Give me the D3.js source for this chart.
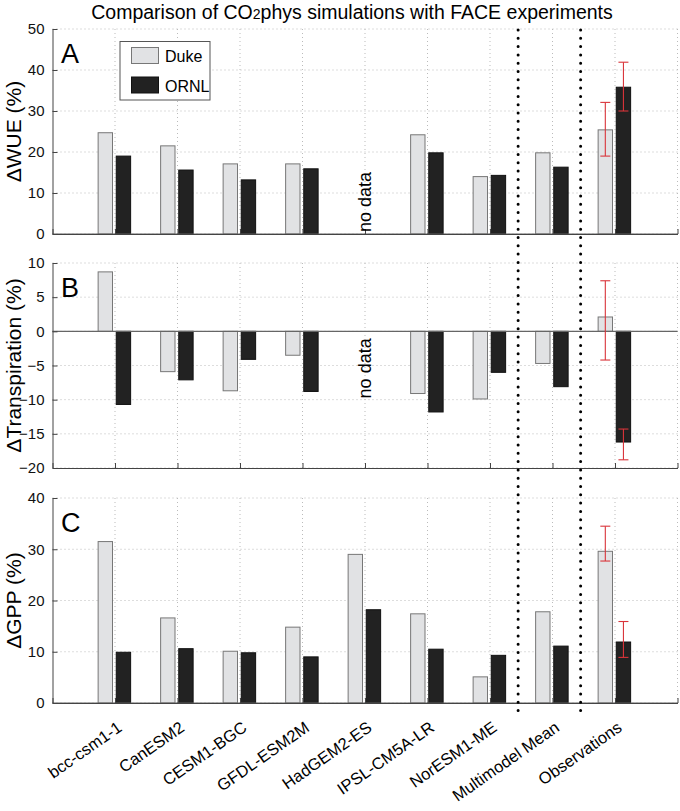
<!DOCTYPE html>
<html>
<head>
<meta charset="utf-8">
<script src="https://cdn.jsdelivr.net/npm/d3@7/dist/d3.min.js"></script>
<style>
  body { margin: 0; background: #fff; }
  svg text { font-family: "Liberation Sans", Arial, Helvetica, sans-serif; }
</style>
</head>
<body>
<div id="chart"></div>
<script>
var models = ['bcc-csm1-1','CanESM2','CESM1-BGC','GFDL-ESM2M','HadGEM2-ES','IPSL-CM5A-LR','NorESM1-ME','Multimodel Mean','Observations'];
var series = ['Duke','ORNL'];

// null = no data
var wueDuke = [24.7, 21.5, 17.1, 17.1, null, 24.2, 14.0, 19.8, 25.4];
var wueOrnl = [19.0, 15.6, 13.2, 15.9, null, 19.8, 14.3, 16.3, 35.8];
var trDuke  = [8.7, -5.9, -8.7, -3.5, null, -9.1, -9.9, -4.7, 2.1];
var trOrnl  = [-10.7, -7.1, -4.1, -8.8, null, -11.8, -6.0, -8.1, -16.2];
var gppDuke = [31.5, 16.6, 10.1, 14.8, 29.0, 17.4, 5.1, 17.8, 29.6];
var gppOrnl = [9.9, 10.6, 9.8, 9.0, 18.2, 10.5, 9.3, 11.1, 11.9];

// observation ranges [low, high] for Duke and ORNL
var wueErr = [[19.0, 32.1], [30.0, 41.9]];
var trErr  = [[-4.2, 7.4], [-18.8, -14.3]];
var gppErr = [[27.7, 34.5], [8.9, 15.9]];

var wueTicks = [0, 10, 20, 30, 40, 50];
var trTicks  = [-20, -15, -10, -5, 0, 5, 10];
var gppTicks = [0, 10, 20, 30, 40];

var separators = [7.45, 8.45];

var W = 680, H = 811;
var left = 52.5, right = 677.5;
var panelH = 205;

var svg = d3.select('#chart').append('svg')
  .attr('width', W)
  .attr('height', H);

var x = d3.scaleLinear().domain([0, 10]).range([left, right]);
var xTicks = d3.range(0, 11);
var barW = 0.23;
var offsets = [-0.155, 0.135];
var colors = ['#e1e2e4', '#222'];
var strokes = ['#777', '#111'];

var panels = [
  {top: 29, domain: [0, 50], ticks: wueTicks, label: '\u0394WUE (%)', letter: 'A', data: [wueDuke, wueOrnl], err: wueErr, nodata: true},
  {top: 263, domain: [-20, 10], ticks: trTicks, label: '\u0394Transpiration (%)', letter: 'B', data: [trDuke, trOrnl], err: trErr, nodata: true},
  {top: 498, domain: [0, 40], ticks: gppTicks, label: '\u0394GPP (%)', letter: 'C', data: [gppDuke, gppOrnl], err: gppErr, nodata: false}
];

panels.forEach(function(p){
  var y = d3.scaleLinear().domain(p.domain).range([p.top + panelH, p.top]);
  var g = svg.append('g');

  // grid
  g.selectAll('.hg').data(p.ticks).enter().append('line')
    .attr('x1', left).attr('x2', right)
    .attr('y1', function(d){ return y(d); }).attr('y2', function(d){ return y(d); })
    .style('stroke', '#bbb').style('stroke-dasharray', '1,3').style('stroke-width', 1);
  g.selectAll('.vg').data(xTicks.slice(1)).enter().append('line')
    .attr('x1', function(d){ return x(d); }).attr('x2', function(d){ return x(d); })
    .attr('y1', p.top).attr('y2', p.top + panelH)
    .style('stroke', '#bbb').style('stroke-dasharray', '1,3').style('stroke-width', 1);

  // bars
  p.data.forEach(function(vals, s){
    var pts = vals.map(function(v, i){ return {i: i, v: v}; })
      .filter(function(d){ return d.v !== null; });
    g.selectAll('.bar' + s).data(pts).enter().append('rect')
      .attr('x', function(d){ return x(d.i + 1 + offsets[s] - barW/2); })
      .attr('width', x(barW) - x(0))
      .attr('y', function(d){ return y(Math.max(0, d.v)); })
      .attr('height', function(d){ return Math.abs(y(d.v) - y(0)); })
      .style('fill', colors[s]).style('stroke', strokes[s]).style('stroke-width', 1);
  });

  // zero line
  g.append('line')
    .attr('x1', left).attr('x2', right)
    .attr('y1', y(0)).attr('y2', y(0))
    .style('stroke', '#666').style('stroke-width', 1.2);

  // axes (MATLAB style, ticks inside)
  var yAxis = d3.axisLeft(y).tickValues(p.ticks).tickSizeInner(-5).tickSizeOuter(0).tickPadding(8)
    .tickFormat(function(d){ return d < 0 ? '\u2212' + Math.abs(d) : d; });
  var ya = g.append('g').attr('transform', 'translate(' + left + ',0)').call(yAxis);
  ya.select('.domain').style('stroke', '#444');
  ya.selectAll('.tick line').style('stroke', '#444');
  ya.selectAll('text').style('font-size', '15px').style('fill', '#111');

  var xAxis = d3.axisBottom(x).tickValues(xTicks).tickSizeInner(-5).tickSizeOuter(0).tickFormat('');
  var xa = g.append('g').attr('transform', 'translate(0,' + (p.top + panelH) + ')').call(xAxis);
  xa.select('.domain').style('stroke', '#444');
  xa.selectAll('.tick line').style('stroke', '#444');

  // observation error bars
  p.err.forEach(function(e, s){
    var cx = x(9 + offsets[s]);
    var eg = g.append('g').style('stroke', '#d9343a').style('stroke-width', 1.1);
    eg.append('line').attr('x1', cx).attr('x2', cx).attr('y1', y(e[0])).attr('y2', y(e[1]));
    e.forEach(function(v){
      eg.append('line').attr('x1', cx - 5).attr('x2', cx + 5).attr('y1', y(v)).attr('y2', y(v));
    });
  });

  // no data label
  if(p.nodata){
    var nx = x(5) + 6;
    if(p.domain[0] < 0){
      g.append('text').attr('transform', 'translate(' + nx + ',' + (y(0) + 7) + ') rotate(-90)')
        .attr('text-anchor', 'end').style('font-size', '18px').text('no data');
    } else {
      g.append('text').attr('transform', 'translate(' + nx + ',' + (y(0) - 2) + ') rotate(-90)')
        .attr('text-anchor', 'start').style('font-size', '18px').text('no data');
    }
  }

  // y label
  g.append('text')
    .attr('transform', 'translate(21,' + (p.top + panelH/2) + ') rotate(-90)')
    .attr('text-anchor', 'middle').style('font-size', '21px').text(p.label);

  // panel letter
  g.append('text').attr('x', 61).attr('y', p.top + 34)
    .style('font-size', '27px').text(p.letter);
});

// separators between models / mean / observations
svg.selectAll('.sep').data(separators).enter().append('line')
  .attr('x1', function(d){ return x(d); }).attr('x2', function(d){ return x(d); })
  .attr('y1', 30).attr('y2', 712)
  .style('stroke', '#000').style('stroke-width', 3)
  .style('stroke-linecap', 'round').style('stroke-dasharray', '0,8.3');

// legend
var lg = svg.append('g').attr('transform', 'translate(120,41.5)');
lg.append('rect').attr('width', 90).attr('height', 58.5)
  .style('fill', '#fff').style('stroke', '#555').style('stroke-width', 1);
series.forEach(function(s, i){
  lg.append('rect').attr('x', 11.5).attr('y', 6 + i*29.5).attr('width', 27).attr('height', 16)
    .style('fill', colors[i]).style('stroke', strokes[i]);
  lg.append('text').attr('x', 45).attr('y', 20.5 + i*29.5).style('font-size', '16px').text(s);
});

// x tick labels
svg.selectAll('.xl').data(models).enter().append('text')
  .attr('transform', function(d, i){ return 'translate(' + (x(i + 1) + 8) + ',730) rotate(-35)'; })
  .attr('text-anchor', 'end').style('font-size', '16.5px').text(function(d){ return d; });

// title
var t = svg.append('text').attr('x', 352).attr('y', 19).attr('text-anchor', 'middle').style('font-size', '19.5px');
t.append('tspan').text('Comparison of CO');
t.append('tspan').style('font-size', '14px').text('2');
t.append('tspan').text('phys simulations with FACE experiments');
</script>
</body>
</html>
